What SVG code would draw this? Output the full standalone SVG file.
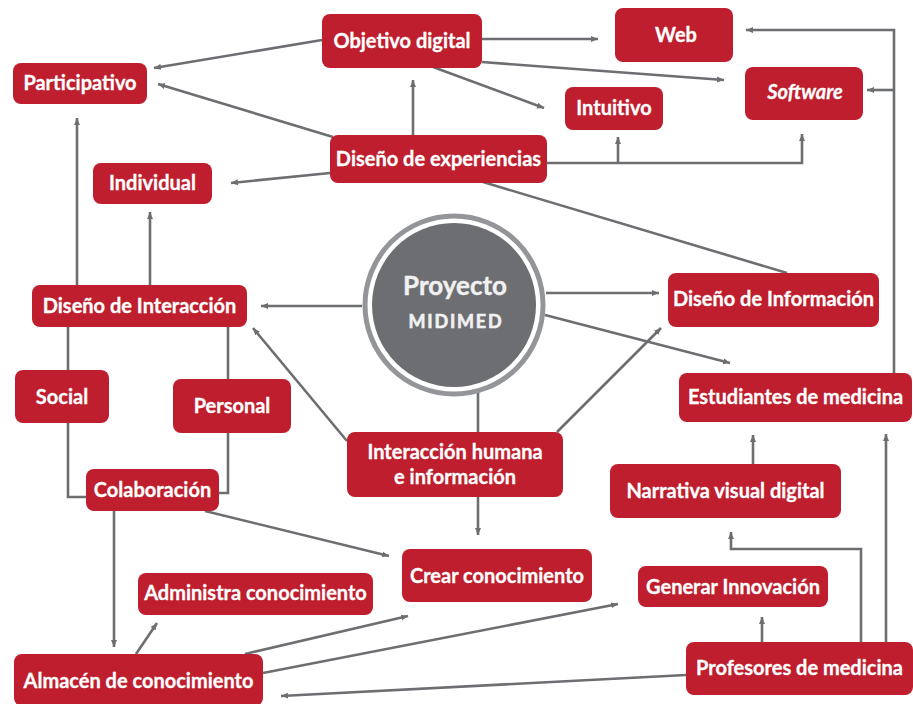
<svg xmlns="http://www.w3.org/2000/svg" width="913" height="704" viewBox="0 0 913 704">
<style>
.n rect{fill:#be1e2d;}
.n text{fill:#fff;stroke:#fff;stroke-width:0.3;font-family:Lato,"Open Sans","Liberation Sans",sans-serif;font-weight:700;font-size:20px;text-anchor:middle;}
.p{fill:#f1f1f2;stroke:#f1f1f2;font-family:Lato,"Open Sans","Liberation Sans",sans-serif;font-weight:700;text-anchor:middle;}
.c line,.c polyline,.c path{fill:none;stroke:#6d6e71;stroke-width:2.6;}
.a{marker-end:url(#ar);}
</style>
<defs>
<marker id="ar" markerUnits="userSpaceOnUse" markerWidth="8" markerHeight="7" refX="7" refY="3.5" orient="auto">
<path d="M0,0.5 L7,3.5 L0,6.5 z" fill="#6d6e71"/>
</marker>
</defs>
<rect width="913" height="704" fill="#fff"/>
<g id="connectors" class="c">
<line class="a" x1="322" y1="40" x2="154" y2="68"/>
<line class="a" x1="333" y1="137" x2="158" y2="84"/>
<line class="a" x1="413" y1="135" x2="413" y2="80"/>
<line class="a" x1="330" y1="173" x2="231" y2="183"/>
<line class="a" x1="482" y1="39" x2="598" y2="39"/>
<line class="a" x1="482" y1="62" x2="724" y2="80"/>
<line class="a" x1="433" y1="67" x2="544" y2="108"/>
<polyline class="a" points="547,163 802,163 802,134"/>
<line class="a" x1="618" y1="163" x2="618" y2="137"/>
<polyline class="a" points="894,373 894,30 746,30"/>
<line class="a" x1="894" y1="90" x2="867" y2="90"/>
<line x1="483" y1="182" x2="787" y2="273"/>
<line class="a" x1="77" y1="285" x2="77" y2="118"/>
<line class="a" x1="150" y1="285" x2="150" y2="212"/>
<line class="a" x1="362" y1="306" x2="261" y2="306"/>
<line class="a" x1="347" y1="441" x2="253" y2="328"/>
<polyline points="68,327 68,497 86,497"/>
<polyline points="228,327 228,493 219,493"/>
<line class="a" x1="546" y1="293" x2="659" y2="293"/>
<line class="a" x1="545" y1="315" x2="730" y2="363"/>
<line class="a" x1="557" y1="432" x2="661" y2="328"/>
<line x1="478" y1="392" x2="478" y2="432"/>
<line class="a" x1="478" y1="497" x2="478" y2="535"/>
<line class="a" x1="753" y1="464" x2="753" y2="435"/>
<line class="a" x1="886" y1="642" x2="886" y2="434"/>
<polyline class="a" points="861,642 861,549 731,549 731,532"/>
<line class="a" x1="762" y1="642" x2="762" y2="617"/>
<line class="a" x1="686" y1="675" x2="281" y2="696"/>
<line class="a" x1="205" y1="511" x2="389" y2="556"/>
<line class="a" x1="114" y1="511" x2="114" y2="647"/>
<line class="a" x1="136" y1="654" x2="157" y2="623"/>
<line class="a" x1="245" y1="654" x2="408" y2="616"/>
<line class="a" x1="263" y1="673" x2="618" y2="604"/>
</g>
<g id="proyecto">
<circle cx="454" cy="305" r="89" fill="none" stroke="#939598" stroke-width="5"/>
<circle cx="454" cy="305" r="82" fill="#6d6e71"/>
<text class="p" x="455" y="295" font-size="26" stroke-width="0.4">Proyecto</text>
<text class="p" x="456" y="328" font-size="18" letter-spacing="1.8" stroke-width="0.6">MIDIMED</text>
</g>
<g id="objetivo-digital" class="n"><rect x="322" y="14" width="160" height="54" rx="8"/><text x="402" y="48">Objetivo digital</text></g>
<g id="web" class="n"><rect x="615" y="8" width="118" height="54" rx="8"/><text x="676" y="41.5">Web</text></g>
<g id="software" class="n"><rect x="745" y="67" width="118" height="53" rx="8"/><text x="805" y="99" font-style="italic">Software</text></g>
<g id="intuitivo" class="n"><rect x="565" y="87" width="98" height="43" rx="8"/><text x="614" y="115">Intuitivo</text></g>
<g id="participativo" class="n"><rect x="13" y="63" width="134" height="41" rx="8"/><text x="80" y="90">Participativo</text></g>
<g id="diseno-experiencias" class="n"><rect x="330" y="135" width="217" height="48" rx="8"/><text x="438.5" y="166">Diseño de experiencias</text></g>
<g id="individual" class="n"><rect x="93" y="163" width="119" height="41" rx="8"/><text x="152.5" y="189.5">Individual</text></g>
<g id="diseno-interaccion" class="n"><rect x="32" y="285" width="215" height="42" rx="8"/><text x="139.5" y="312.5">Diseño de Interacción</text></g>
<g id="social" class="n"><rect x="15" y="370" width="94" height="53" rx="8"/><text x="62" y="403.5">Social</text></g>
<g id="personal" class="n"><rect x="173" y="379" width="118" height="54" rx="8"/><text x="232" y="412.5">Personal</text></g>
<g id="colaboracion" class="n"><rect x="86" y="469" width="133" height="42" rx="8"/><text x="152.5" y="497">Colaboración</text></g>
<g id="interaccion-humana" class="n"><rect x="347" y="432" width="216" height="65" rx="8"/><text x="455" y="459">Interacción humana</text><text x="455" y="484">e información</text></g>
<g id="diseno-informacion" class="n"><rect x="668" y="273" width="211" height="54" rx="8"/><text x="773.5" y="306">Diseño de Información</text></g>
<g id="estudiantes" class="n"><rect x="679" y="373" width="233" height="49" rx="8"/><text x="795.5" y="404">Estudiantes de medicina</text></g>
<g id="narrativa" class="n"><rect x="610" y="464" width="231" height="54" rx="8"/><text x="725.5" y="497.5">Narrativa visual digital</text></g>
<g id="crear" class="n"><rect x="402" y="549" width="190" height="53" rx="8"/><text x="497" y="582.5">Crear conocimiento</text></g>
<g id="administra" class="n"><rect x="138" y="573" width="235" height="42" rx="8"/><text x="255.5" y="600">Administra conocimiento</text></g>
<g id="almacen" class="n"><rect x="14" y="654" width="249" height="52" rx="8"/><text x="138.5" y="687.5">Almacén de conocimiento</text></g>
<g id="generar" class="n"><rect x="638" y="566" width="190" height="41" rx="8"/><text x="733" y="594">Generar Innovación</text></g>
<g id="profesores" class="n"><rect x="686" y="642" width="227" height="53" rx="8"/><text x="799.5" y="675">Profesores de medicina</text></g>
</svg>
